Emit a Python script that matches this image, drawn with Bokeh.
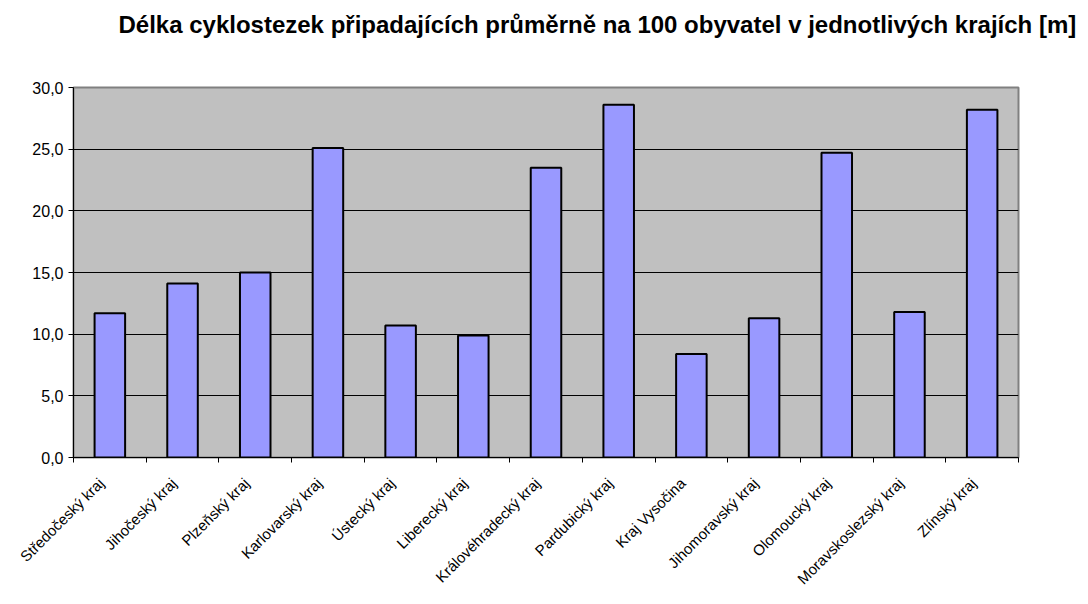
import math
from bokeh.plotting import figure
from bokeh.models import ColumnDataSource, FixedTicker, Range1d, Title
from bokeh.embed import file_html
from bokeh.resources import INLINE

regions = ["Středočeský kraj", "Jihočeský kraj", "Plzeňský kraj", "Karlovarský kraj",
           "Ústecký kraj", "Liberecký kraj", "Královéhradecký kraj", "Pardubický kraj",
           "Kraj Vysočina", "Jihomoravský kraj", "Olomoucký kraj", "Moravskoslezský kraj",
           "Zlínský kraj"]
values = [11.7, 14.1, 15.0, 25.1, 10.7, 9.9, 23.5, 28.6, 8.4, 11.3, 24.7, 11.8, 28.2]
y_ticks = [0, 5, 10, 15, 20, 25, 30]
y_tick_labels = ["0,0", "5,0", "10,0", "15,0", "20,0", "25,0", "30,0"]
title_text = "Délka cyklostezek připadajících průměrně na 100 obyvatel v jednotlivých krajích [m]"

xpos = [i + 0.5 for i in range(len(regions))]
LABEL_SHIFT = 0.12  # rotated labels sit slightly left of the category centre
label_pos = [x - LABEL_SHIFT for x in xpos]
src = ColumnDataSource(dict(x=xpos, top=values, name=regions))

FONT = "Liberation Sans"

p = figure(width=1088, height=604, output_backend="svg", toolbar_location=None,
           x_range=Range1d(0, len(regions)), y_range=Range1d(0, 30),
           min_border_left=73, min_border_right=70, min_border_top=0, min_border_bottom=147)
p.title = None

# spacer panel between frame and title, then the title itself (outermost)
p.add_layout(Title(text=" ", text_font_size="10px", standoff=25), "above")
p.add_layout(Title(text=title_text, text_font=FONT, text_font_size="24px",
                   text_font_style="bold", text_color="black", align="left",
                   offset=45, standoff=20, vertical_align="top"), "above")

p.background_fill_color = "#C0C0C0"
p.border_fill_color = "white"
p.outline_line_color = "#808080"
p.outline_line_width = 2

p.vbar(x="x", top="top", width=0.42, bottom=0, source=src,
       fill_color="#9999FF", line_color="black", line_width=2)

# y axis
p.yaxis.ticker = FixedTicker(ticks=y_ticks, minor_ticks=[])
p.yaxis.major_label_overrides = {t: l for t, l in zip(y_ticks, y_tick_labels)}
p.yaxis.major_label_text_font = FONT
p.yaxis.major_label_text_font_size = "16px"
p.yaxis.major_label_text_color = "black"
p.yaxis.major_tick_in = 0
p.yaxis.major_tick_out = 5
p.yaxis.major_tick_line_color = "black"
p.yaxis.axis_line_color = "black"
p.yaxis.major_label_standoff = 5

# x axis: labels near centers, ticks at category boundaries (minor ticks)
p.xaxis.ticker = FixedTicker(ticks=label_pos, minor_ticks=list(range(len(regions) + 1)))
p.xaxis.major_label_overrides = {x: n for x, n in zip(label_pos, regions)}
p.xaxis.major_label_orientation = math.pi / 4
p.xaxis.major_label_text_font = FONT
p.xaxis.major_label_text_font_size = "15px"
p.xaxis.major_label_text_color = "black"
p.xaxis.major_tick_line_color = None
p.xaxis.major_tick_in = 0
p.xaxis.major_tick_out = 0
p.xaxis.minor_tick_in = 0
p.xaxis.minor_tick_out = 5
p.xaxis.minor_tick_line_color = "black"
p.xaxis.axis_line_color = "black"
p.xaxis.major_label_standoff = 18

p.xgrid.grid_line_color = None
p.ygrid.grid_line_color = "black"
p.ygrid.grid_line_width = 1
p.ygrid.ticker = FixedTicker(ticks=y_ticks[1:-1])

open("out.html", "w").write(file_html(p, INLINE))
